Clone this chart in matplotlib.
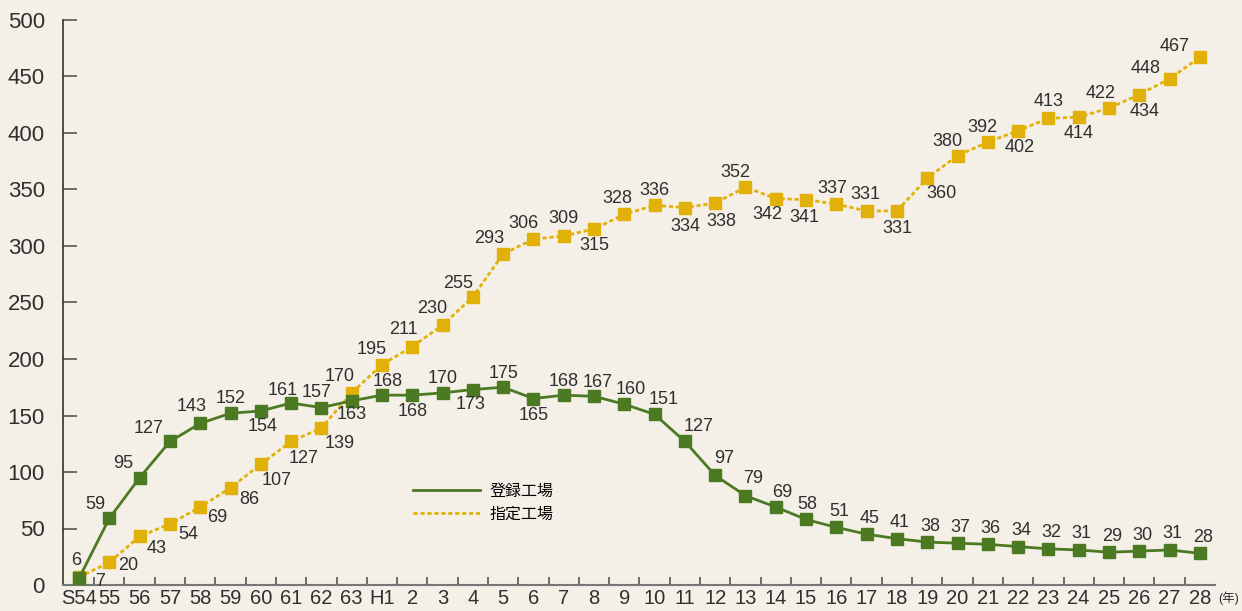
import numpy as np
import matplotlib
matplotlib.use("Agg")
import matplotlib.pyplot as plt

plt.rcParams['font.family'] = ['Liberation Sans', 'Noto Sans CJK JP', 'DejaVu Sans']

years = ['S54', '55', '56', '57', '58', '59', '60', '61', '62', '63', 'H1'] + \
        [str(i) for i in range(2, 29)]
registered = [6, 59, 95, 127, 143, 152, 154, 161, 157, 163, 168, 168, 170, 173, 175,
              165, 168, 167, 160, 151, 127, 97, 79, 69, 58, 51, 45, 41, 38, 37, 36,
              34, 32, 31, 29, 30, 31, 28]
designated = [7, 20, 43, 54, 69, 86, 107, 127, 139, 170, 195, 211, 230, 255, 293,
              306, 309, 315, 328, 336, 334, 338, 352, 342, 341, 337, 331, 331, 360,
              380, 392, 402, 413, 414, 422, 434, 448, 467]

# label offsets in pixels (dx, dy)
reg_off = [(-3, 18), (-14, 14), (-16, 14), (-21, 13), (-9, 17), (0, 15), (2, -16),
           (-8, 13), (-5, 15), (0, -14), (6, 14), (0, -16), (0, 14), (-2, -15),
           (0, 14), (0, -17), (0, 14), (4, 14), (6, 15), (9, 15), (14, 15), (9, 17),
           (8, 17), (6, 15), (1, 15)] + [(3, 16)] * 13
des_off = [(21, -4), (19, -3), (17, -12), (18, -11), (17, -10), (19, -12), (16, -16),
           (12, -17), (18, -16), (-12, 16), (-10, 15), (-9, 17), (-10, 17), (-15, 13),
           (-14, 15), (-10, 16), (0, 17), (0, -16), (-7, 16), (0, 15), (0, -19),
           (6, -18), (-10, 15), (-8, -16), (-2, -18), (-4, 16), (-1, 16), (0, -18),
           (14, -15), (-10, 14), (-5, 15), (2, -17), (0, 17), (0, -16), (-8, 15),
           (5, -17), (-24, 10), (-25, 11)]

green = '#4b7a23'
yellow = '#e1b10a'
bg = '#f4f0e7'
txt = '#2f2f2f'

fig = plt.figure(figsize=(12.42, 6.11), dpi=100, facecolor=bg)
ax = fig.add_axes([63 / 1242, 26 / 611, (1215 - 63) / 1242, 565 / 611])
ax.set_facecolor(bg)

x = np.arange(len(years))
ax.plot(x, registered, color=green, lw=2, marker='s', ms=9, label='登録工場', zorder=3)
ax.plot(x, designated, color=yellow, lw=2, ls=(0, (1.5, 1)), marker='s', ms=9,
        label='指定工場', zorder=2)

for xi, v, (dx, dy) in zip(x, registered, reg_off):
    ax.annotate(str(v), (xi, v), xytext=(dx, dy), textcoords='offset pixels',
                ha='center', va='center', fontsize=13, color=txt)
for xi, v, (dx, dy) in zip(x, designated, des_off):
    ax.annotate(str(v), (xi, v), xytext=(dx, dy), textcoords='offset pixels',
                ha='center', va='center', fontsize=13, color=txt)

ax.set_xlim(-0.53, len(years) - 0.5)
ax.set_ylim(0, 500)
ax.set_yticks(np.arange(0, 501, 50))
ax.tick_params(axis='y', direction='in', length=10, width=1.2, color='#555555',
               labelsize=16, labelcolor=txt, pad=13)
ax.set_xticks(x)
ax.set_xticklabels(years)
ax.tick_params(axis='x', which='major', length=0, labelsize=14.5,
               labelcolor=txt, pad=3)
ax.set_xticks(x[:-1] + 0.5, minor=True)
ax.tick_params(axis='x', which='minor', direction='in', length=6, width=1.2,
               color='#555555')
ax.spines['top'].set_visible(False)
ax.spines['right'].set_visible(False)
ax.spines['left'].set_color('#333333')
ax.spines['left'].set_linewidth(1.2)
ax.spines['bottom'].set_color('#777777')
ax.spines['bottom'].set_linewidth(1.5)

fig.text(1218 / 1242, 1 - 598 / 611, '(年)', fontsize=9, color=txt,
         ha='left', va='center')

ax.legend(loc='upper left', bbox_to_anchor=((413 - 63) / 1152, (585 - 484) / 565),
          frameon=False, fontsize=11.5, handlelength=4.2, handletextpad=0.6,
          labelspacing=0.45, borderpad=0, borderaxespad=0)
for h in ax.get_legend().legend_handles:
    h.set_marker('')

fig.savefig('out.png', dpi=100, facecolor=bg)
